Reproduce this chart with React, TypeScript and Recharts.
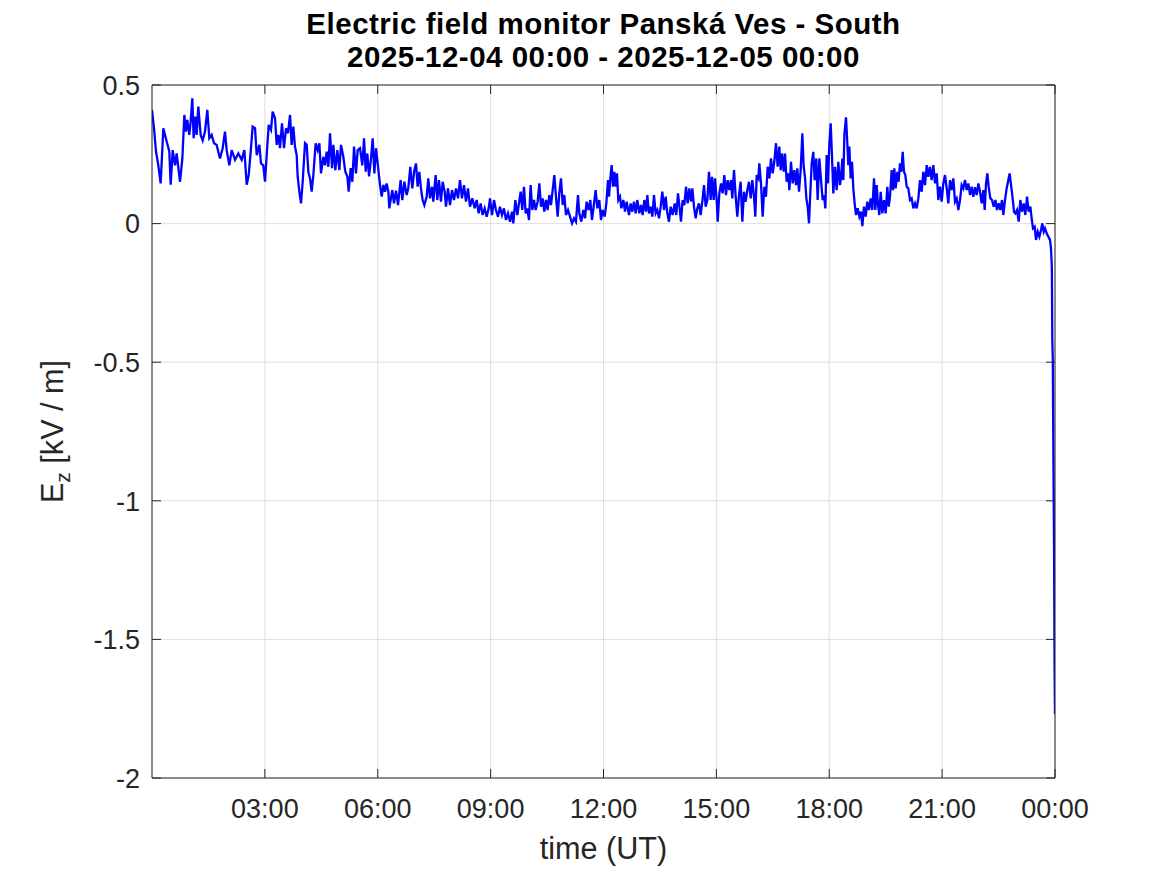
import { LineChart, Line, XAxis, YAxis, CartesianGrid } from "recharts";

// time in minutes after 2025-12-04 00:00 UT, Ez in kV/m in 6-hour blocks
const MIN_00_06 = [
  0, 3.2, 6.4, 10.1, 13.8, 18.1, 23.4, 27.6, 29.8, 33,
  36.7, 39.3, 44.7, 48.4, 51.6, 54.2, 56.3, 59.5, 61.7, 64.3,
  66.4, 69.1, 71.2, 73.9, 77.6, 80.8, 84.5, 88.2, 91.4, 95.1,
  98.9, 103.1, 108.4, 112.7, 116.4, 119.1, 123.3, 127.1, 132.4, 137.7,
  143, 147.3, 151, 154.2, 157.4, 160.5, 164.3, 167, 171.2, 173.8,
  177.5, 180.2, 182.9, 186.1, 189.8, 192.4, 196.2, 198.8, 201.5, 204.1,
  207.3, 210.5, 213.7, 216.9, 220.1, 222.7, 225.4, 228, 230.7, 232.3,
  235, 237.6, 240.3, 244, 246.7, 249.3, 252, 254.6, 257.3, 261,
  264.2, 266.9, 269.5, 273.2, 275.9, 278.6, 281.2, 283.9, 287.1, 289.2,
  292.4, 295.6, 298.8, 301.4, 305.1, 308.3, 311.5, 313.6, 316.8, 319.5,
  322.2, 325.3, 328, 331.7, 335.4, 338.1, 340.8, 343.4, 346.1, 349.3,
  351.9, 354.6, 357.2, 359.9, 363.6, 366.3, 369, 371.6, 374.2, 376.9,
];
const EZ_00_06 = [
  0.41, 0.344, 0.26, 0.21, 0.145, 0.344, 0.296, 0.26, 0.14, 0.265,
  0.21, 0.253, 0.151, 0.235, 0.392, 0.332, 0.374, 0.32, 0.368, 0.452,
  0.308, 0.386, 0.32, 0.422, 0.32, 0.3, 0.332, 0.41, 0.308, 0.32,
  0.29, 0.284, 0.235, 0.272, 0.332, 0.265, 0.21, 0.265, 0.23, 0.253,
  0.23, 0.265, 0.14, 0.175, 0.26, 0.35, 0.344, 0.247, 0.284, 0.217,
  0.21, 0.151, 0.247, 0.356, 0.338, 0.404, 0.38, 0.284, 0.32, 0.272,
  0.362, 0.272, 0.344, 0.326, 0.392, 0.284, 0.35, 0.278, 0.247, 0.17,
  0.115, 0.073, 0.151, 0.29, 0.284, 0.187, 0.163, 0.115, 0.175, 0.29,
  0.265, 0.29, 0.181, 0.241, 0.21, 0.26, 0.205, 0.326, 0.2, 0.284,
  0.193, 0.265, 0.193, 0.284, 0.241, 0.187, 0.17, 0.115, 0.2, 0.151,
  0.278, 0.181, 0.265, 0.272, 0.21, 0.308, 0.187, 0.253, 0.17, 0.235,
  0.308, 0.181, 0.272, 0.217, 0.14, 0.097, 0.14, 0.115, 0.145, 0.115,
];

const MIN_06_12 = [
  378.4, 383.2, 385.9, 389.1, 392.3, 396.5, 399.2, 402.4, 406.1, 408.7,
  411.9, 415.1, 418.3, 421, 423.6, 426.3, 428.9, 431.6, 434.3, 438,
  440.6, 443.3, 446.5, 448.6, 452.3, 455, 457.6, 460.8, 463.5, 466.7,
  468.8, 472, 475.2, 478.4, 481.6, 484.8, 488, 491.1, 494.3, 497.5,
  500.7, 503.9, 507.1, 510.8, 514.5, 517.7, 520.9, 524.1, 527.3, 530.5,
  533.7, 536.9, 539, 542.2, 545.4, 548.5, 551.7, 554.9, 558.1, 561.3,
  564.5, 567.7, 570.9, 574.1, 576.2, 579.4, 582.6, 585.2, 587.9, 590.5,
  593.2, 595.9, 598.5, 601.2, 603.8, 606.5, 609.2, 611.8, 615, 617.7,
  620.3, 623, 625.6, 628.3, 630.9, 633.6, 636.3, 638.9, 641.6, 644.2,
  646.9, 649.5, 652.2, 654.9, 657.5, 660.2, 663.4, 666.6, 669.8, 673,
  676.1, 679.3, 681.4, 684.6, 687.8, 690.5, 693.1, 696.3, 699, 701.6,
  704.3, 707.5, 710.2, 713.3, 716, 718.7, 721.9, 724.5, 727.2,
];
const EZ_06_12 = [
  0.055, 0.121, 0.073, 0.119, 0.067, 0.157, 0.085, 0.151, 0.103, 0.127,
  0.205, 0.127, 0.193, 0.217, 0.133, 0.187, 0.127, 0.085, 0.067, 0.097,
  0.163, 0.091, 0.133, 0.079, 0.175, 0.085, 0.157, 0.079, 0.151, 0.115,
  0.061, 0.127, 0.067, 0.121, 0.085, 0.127, 0.091, 0.157, 0.091, 0.139,
  0.079, 0.127, 0.061, 0.091, 0.055, 0.085, 0.037, 0.073, 0.031, 0.055,
  0.025, 0.055, 0.091, 0.031, 0.085, 0.049, 0.025, 0.061, 0.031, 0.055,
  0.013, 0.037, 0.007, 0.043, 0.001, 0.085, 0.031, 0.073, 0.115, 0.049,
  0.133, 0.037, 0.055, 0.013, 0.139, 0.049, 0.085, 0.049, 0.079, 0.145,
  0.061, 0.091, 0.043, 0.085, 0.049, 0.103, 0.067, 0.121, 0.175, 0.097,
  0.025, 0.109, 0.163, 0.067, 0.103, 0.031, 0.049, 0.025, 0.001, 0.019,
  0.007, 0.103, 0.037, 0.007, 0.049, 0.019, 0.079, 0.049, 0.085, 0.013,
  0.061, 0.121, 0.055, 0.085, 0.013, 0.049, 0.025, 0.073, 0.157,
];

const MIN_12_18 = [
  728.8, 730.9, 733, 735.1, 737.3, 739.4, 741.5, 743.6, 746.3, 748.4,
  751.6, 754.3, 756.9, 760.7, 763.3, 766, 768.6, 771.3, 773.9, 777.1,
  779.8, 782.4, 785.1, 787.8, 789.9, 792.5, 795.2, 797.9, 800.5, 803.2,
  805.8, 808.5, 811.2, 813.8, 816.5, 819.1, 821.8, 824.4, 827.1, 830.3,
  833.5, 836.1, 838.8, 840.9, 843.6, 846.2, 848.9, 851.6, 854.2, 856.9,
  859.5, 861.7, 864.3, 867, 869.6, 872.3, 874.9, 877.6, 880.3, 882.9,
  885.6, 888.2, 890.9, 893, 895.7, 897.8, 900.5, 902.1, 904.7, 907.4,
  910, 912.7, 915.3, 918, 920.7, 923.3, 925.4, 928.1, 930.8, 933.4,
  936.1, 938.7, 941.4, 944, 946.7, 949.4, 952, 954.7, 957.3, 960,
  962.1, 964.3, 966.9, 968.5, 971.2, 973.8, 976.5, 979.1, 981.8, 984.5,
  987.1, 989.8, 992.4, 995.1, 997.7, 1000.4, 1002.5, 1004.6, 1007.3, 1009.4,
  1012.1, 1014.8, 1016.4, 1019, 1021.7, 1024.3, 1027, 1029.1, 1031.8, 1034.4,
  1037.1, 1039.2, 1041.3, 1043.5, 1045.6, 1047.7, 1049.8, 1052, 1054.6, 1056.7,
  1059.4, 1061.5, 1064.2, 1066.9, 1069.5, 1071.6, 1073.8, 1075.9, 1078, 1080.1,
  1082.3, 1084.4, 1086.5, 1089.2, 1091.8, 1094.5,
];
const EZ_12_18 = [
  0.097, 0.163, 0.211, 0.133, 0.187, 0.133, 0.181, 0.085, 0.097, 0.055,
  0.085, 0.043, 0.079, 0.031, 0.073, 0.043, 0.079, 0.037, 0.085, 0.037,
  0.067, 0.031, 0.085, 0.043, 0.103, 0.037, 0.061, 0.025, 0.103, 0.037,
  0.049, 0.019, 0.061, 0.115, 0.049, 0.097, 0.037, 0.007, 0.061, 0.031,
  0.073, 0.031, 0.109, 0.067, 0.007, 0.085, 0.067, 0.133, 0.073, 0.127,
  0.079, 0.127, 0.061, 0.019, 0.055, 0.073, 0.031, 0.079, 0.139, 0.061,
  0.085, 0.187, 0.085, 0.169, 0.085, 0.163, 0.085, 0.007, 0.109, 0.145,
  0.109, 0.175, 0.103, 0.157, 0.121, 0.157, 0.091, 0.193, 0.097, 0.025,
  0.103, 0.151, 0.007, 0.115, 0.079, 0.121, 0.151, 0.091, 0.157, 0.097,
  0.025, 0.175, 0.163, 0.217, 0.145, 0.025, 0.133, 0.097, 0.205, 0.163,
  0.235, 0.181, 0.223, 0.29, 0.205, 0.278, 0.193, 0.253, 0.187, 0.253,
  0.151, 0.181, 0.121, 0.223, 0.145, 0.193, 0.139, 0.199, 0.115, 0.193,
  0.326, 0.205, 0.169, 0.091, 0.061, 0.001, 0.109, 0.217, 0.259, 0.157,
  0.235, 0.085, 0.235, 0.157, 0.085, 0.103, 0.055, 0.247, 0.145, 0.284,
  0.362, 0.241, 0.109, 0.205, 0.121, 0.223,
];

const MIN_18_24 = [
  1097.1, 1098.7, 1100.9, 1102.5, 1104.1, 1106.7, 1108.3, 1110.4, 1112, 1114.2,
  1116.3, 1118.4, 1120.5, 1122.7, 1125.3, 1128, 1130.6, 1132.8, 1135.4, 1138.1,
  1140.7, 1143.4, 1146.1, 1148.7, 1151.4, 1153.5, 1155.6, 1157.8, 1159.9, 1162,
  1164.7, 1167.3, 1170, 1172.6, 1174.8, 1176.9, 1179.5, 1181.7, 1183.8, 1185.9,
  1188.6, 1190.7, 1192.8, 1195, 1197.1, 1199.2, 1201.3, 1203.5, 1206.1, 1208.8,
  1211.4, 1214.1, 1216.8, 1219.4, 1222.1, 1224.7, 1227.4, 1230, 1232.7, 1235.4,
  1238, 1240.7, 1243.3, 1246, 1248.7, 1251.3, 1254, 1256.6, 1259.3, 1261.9,
  1264.6, 1267.3, 1269.9, 1272.6, 1275.2, 1277.9, 1280.5, 1283.2, 1285.9, 1288.5,
  1291.2, 1293.8, 1296.5, 1299.2, 1301.8, 1304.5, 1307.1, 1309.8, 1312.4, 1315.1,
  1317.8, 1320.4, 1323.1, 1325.7, 1327.9, 1330, 1332.1, 1334.2, 1336.9, 1339.6,
  1342.2, 1344.9, 1347.5, 1350.2, 1352.8, 1355.5, 1357.6, 1360.3, 1362.9, 1365.6,
  1367.7, 1369.9, 1372.5, 1374.6, 1376.8, 1379.4, 1382.1, 1384.7, 1387.4, 1390.1,
  1392.7, 1395.4, 1398, 1400.7, 1402.8, 1404.9, 1407.6, 1409.7, 1412.4, 1415.1,
  1417.7, 1419.8, 1422, 1424.1, 1426.7, 1429.4, 1432, 1433.6, 1435, 1435.7,
  1436.5, 1437.5, 1438.5, 1439.3, 1440,
];
const EZ_18_24 = [
  0.139, 0.163, 0.235, 0.157, 0.32, 0.383, 0.314, 0.211, 0.278, 0.163,
  0.223, 0.127, 0.073, 0.031, 0.055, 0.025, 0.043, -0.009, 0.061, 0.025,
  0.079, 0.049, 0.091, 0.049, 0.163, 0.049, 0.139, 0.067, 0.031, 0.115,
  0.037, 0.085, 0.037, 0.133, 0.061, 0.097, 0.193, 0.121, 0.199, 0.127,
  0.187, 0.151, 0.217, 0.187, 0.259, 0.187, 0.175, 0.133, 0.127, 0.085,
  0.091, 0.055, 0.073, 0.055, 0.091, 0.157, 0.115, 0.187, 0.139, 0.211,
  0.169, 0.205, 0.157, 0.211, 0.145, 0.181, 0.085, 0.133, 0.079, 0.145,
  0.175, 0.127, 0.073, 0.157, 0.121, 0.163, 0.079, 0.091, 0.049, 0.085,
  0.139, 0.127, 0.157, 0.121, 0.145, 0.103, 0.133, 0.097, 0.131, 0.103,
  0.145, 0.115, 0.073, 0.121, 0.049, 0.145, 0.181, 0.133, 0.091, 0.085,
  0.061, 0.085, 0.049, 0.073, 0.049, 0.085, 0.031, 0.085, 0.127, 0.157,
  0.181, 0.139, 0.091, 0.043, 0.037, 0.049, 0.007, 0.085, 0.043, 0.073,
  0.031, 0.097, 0.043, 0.061, 0.019, -0.017, -0.011, -0.059, -0.029, -0.047,
  -0.023, 0.001, -0.029, -0.017, -0.035, -0.047, -0.059, -0.089, -0.16, -0.42,
  -0.49, -0.86, -1.17, -1.6, -1.77,
];

const X_TICKS = [180, 360, 540, 720, 900, 1080, 1260, 1440];
const Y_TICKS = [-2, -1.5, -1, -0.5, 0, 0.5];
const TITLE_LINES = ["Electric field monitor Panská Ves - South", "2025-12-04 00:00 - 2025-12-05 00:00"];

const MINUTES = [...MIN_00_06, ...MIN_06_12, ...MIN_12_18, ...MIN_18_24];
const EZ = [...EZ_00_06, ...EZ_06_12, ...EZ_12_18, ...EZ_18_24];
const data = MINUTES.slice(0, EZ.length).map((t, i) => ({ t, ez: EZ[i] }));

const W = 1167;
const H = 875;
const AXIS = "#262626";
const GRID = "#dfdfdf";
const FONT = "'Liberation Sans', Arial, Helvetica, sans-serif";
const TICK_FS = 27;
const LABEL_FS = 30.6;
const TITLE_FS = 29.5;
const TICK_LEN = 9;

const hhmm = (m: number) => {
  const h = Math.floor(m / 60) % 24;
  const mm = Math.round(m % 60);
  return `${String(h).padStart(2, "0")}:${String(mm).padStart(2, "0")}`;
};

// MATLAB-style ticks: marks point inward, labels outside
function BottomTick({ x, y, payload }: any) {
  return (
    <g>
      <line x1={x} x2={x} y1={y} y2={y - TICK_LEN} stroke={AXIS} />
      <text x={x} y={y + 40} textAnchor="middle" fontSize={TICK_FS} fontFamily={FONT} fill={AXIS}>
        {hhmm(payload.value)}
      </text>
    </g>
  );
}

function TopTick({ x, y }: any) {
  return <line x1={x} x2={x} y1={y} y2={y + TICK_LEN} stroke={AXIS} />;
}

function LeftTick({ x, y, payload }: any) {
  return (
    <g>
      <line x1={x} x2={x + TICK_LEN} y1={y} y2={y} stroke={AXIS} />
      <text x={x - 12} y={y} dy="0.36em" textAnchor="end" fontSize={TICK_FS} fontFamily={FONT} fill={AXIS}>
        {String(payload.value)}
      </text>
    </g>
  );
}

function RightTick({ x, y }: any) {
  return <line x1={x} x2={x - TICK_LEN} y1={y} y2={y} stroke={AXIS} />;
}

export default function App() {
  const midX = (152 + 1055) / 2;
  const midY = (85 + 778) / 2;
  return (
    <div style={{ position: "absolute", left: 0, top: 0, width: W, height: H, background: "#fff" }}>
      <LineChart width={W} height={H} data={data} margin={{ top: 55, right: 82, bottom: 67, left: 92 }}>
        <CartesianGrid stroke={GRID} />
        <XAxis
          dataKey="t"
          type="number"
          domain={[0, 1440]}
          ticks={X_TICKS}
          interval={0}
          allowDataOverflow
          height={30}
          tickSize={0}
          tickMargin={0}
          tickLine={false}
          axisLine={{ stroke: AXIS }}
          tick={<BottomTick />}
        />
        <XAxis
          xAxisId="top"
          orientation="top"
          dataKey="t"
          type="number"
          domain={[0, 1440]}
          ticks={X_TICKS}
          interval={0}
          allowDataOverflow
          height={30}
          tickSize={0}
          tickMargin={0}
          tickLine={false}
          axisLine={{ stroke: AXIS }}
          tick={<TopTick />}
        />
        <YAxis
          type="number"
          domain={[-2, 0.5]}
          ticks={Y_TICKS}
          interval={0}
          allowDataOverflow
          width={60}
          tickSize={0}
          tickMargin={0}
          tickLine={false}
          axisLine={{ stroke: AXIS }}
          tick={<LeftTick />}
        />
        <YAxis
          yAxisId="right"
          orientation="right"
          dataKey="ez"
          type="number"
          domain={[-2, 0.5]}
          ticks={Y_TICKS}
          interval={0}
          allowDataOverflow
          width={30}
          tickSize={0}
          tickMargin={0}
          tickLine={false}
          axisLine={{ stroke: AXIS }}
          tick={<RightTick />}
        />
        <Line
          dataKey="ez"
          type="linear"
          stroke="#0000ff"
          strokeWidth={2.3}
          strokeLinejoin="miter"
          dot={false}
          activeDot={false}
          isAnimationActive={false}
        />
      </LineChart>
      <svg width={W} height={H} style={{ position: "absolute", left: 0, top: 0, pointerEvents: "none" }}>
        <text x={midX} y={33.5} textAnchor="middle" fontSize={TITLE_FS} letterSpacing={0.5} fontWeight="bold" fontFamily={FONT} fill="#000">
          {TITLE_LINES[0]}
        </text>
        <text x={midX} y={66.5} textAnchor="middle" fontSize={TITLE_FS} letterSpacing={0.5} fontWeight="bold" fontFamily={FONT} fill="#000">
          {TITLE_LINES[1]}
        </text>
        <text x={midX} y={859} textAnchor="middle" fontSize={LABEL_FS} fontFamily={FONT} fill={AXIS}>
          time (UT)
        </text>
        <text
          x={63}
          y={midY}
          textAnchor="middle"
          fontSize={LABEL_FS}
          fontFamily={FONT}
          fill={AXIS}
          transform={`rotate(-90 63 ${midY})`}
        >
          <tspan>E</tspan>
          <tspan dy={7} fontSize={21}>z</tspan>
          <tspan dy={-7}> [kV / m]</tspan>
        </text>
      </svg>
    </div>
  );
}
